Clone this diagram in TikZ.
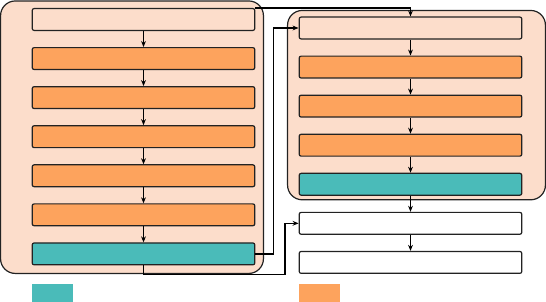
\documentclass[tikz,border=0pt]{standalone}
\usepackage{tikz}
\usetikzlibrary{positioning,arrows.meta,backgrounds,calc}
\definecolor{peach}{HTML}{FCDDCB}
\definecolor{stageor}{HTML}{FDA35D}
\definecolor{stagetl}{HTML}{4ABBB9}
\definecolor{edgegr}{HTML}{222222}

\begin{document}
\begin{tikzpicture}[x=0.75pt,y=0.75pt,
  blk/.style={rectangle,rounded corners=1.5pt,draw=edgegr,line width=0.9pt,minimum width=167pt,minimum height=16.4pt,inner sep=0pt},
  pale/.style={blk,fill=peach},
  hot/.style={blk,fill=stageor},
  cool/.style={blk,fill=stagetl},
  plain/.style={blk,fill=white},
  grp/.style={draw=edgegr,line width=0.9pt,fill=peach,rounded corners=11pt},
  key/.style={minimum width=30.75pt,minimum height=15pt,inner sep=0pt},
  >={Stealth[length=4.5pt,width=3.6pt]},edge/.style={->,draw=black,line width=1pt},
  node distance=12pt
]
\useasboundingbox (0,0) rectangle (546,-302);
% left column
\node[pale] (l1) at (143.5,-19.5) {};
\node[hot,below=of l1] (l2) {};
\node[hot,below=of l2] (l3) {};
\node[hot,below=of l3] (l4) {};
\node[hot,below=of l4] (l5) {};
\node[hot,below=of l5] (l6) {};
\node[cool,below=of l6] (l7) {};
% right column
\node[pale] (r1) at (410.5,-28) {};
\node[hot,below=of r1] (r2) {};
\node[hot,below=of r2] (r3) {};
\node[hot,below=of r3] (r4) {};
\node[cool,below=of r4] (r5) {};
\node[plain,below=of r5] (r6) {};
\node[plain,below=of r6] (r7) {};
% key
\node[key,fill=stagetl,anchor=north west] (k1) at (32,-284) {};
\node[key,fill=stageor,anchor=north west] (k2) at (299,-284) {};

\begin{scope}[on background layer]
\draw[grp] ($(l1.north west)+(-31,7)$) rectangle ($(l7.south east)+(8,-8)$);
\draw[grp] ($(r1.north west)+(-11,6)$) rectangle ($(r5.south east)+(23,-4)$);
\end{scope}

\foreach \a/\b in {l1/l2,l2/l3,l3/l4,l4/l5,l5/l6,l6/l7,r1/r2,r2/r3,r3/r4,r4/r5,r5/r6,r6/r7}
  \draw[edge] (\a) -- (\b);
\draw[edge] (l1.north east) -| (r1.north);
\draw[edge] (l7.east) -- ++(18,0) |- (r1.west);
\draw[edge] (l7.south) |- ++(141.5,-9) |- (r6.west);
\end{tikzpicture}
\end{document}
